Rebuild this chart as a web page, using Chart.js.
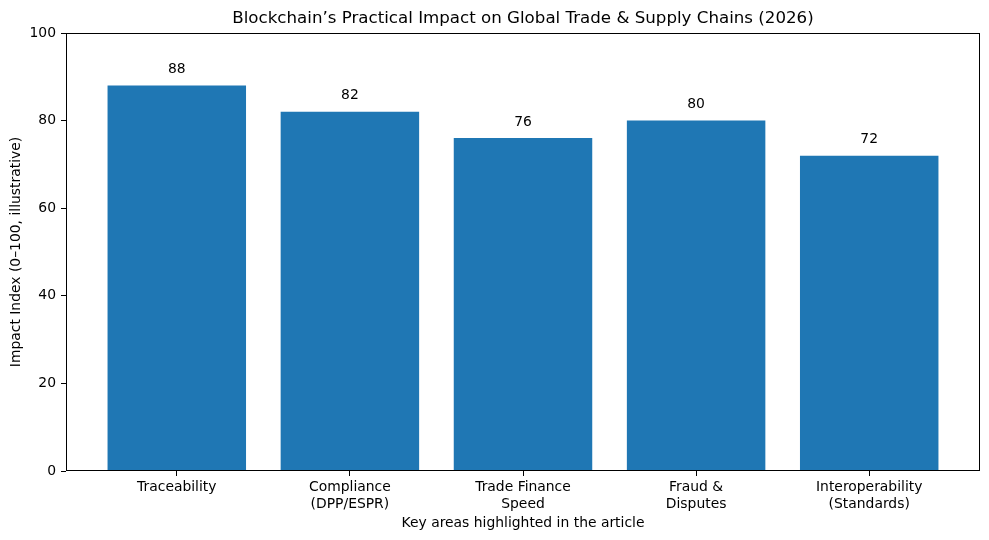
<!DOCTYPE html>
<html>
<head>
<meta charset="utf-8">
<script src="https://cdn.jsdelivr.net/npm/chart.js@4/dist/chart.umd.min.js"></script>
<style>
  html, body { margin: 0; padding: 0; background: #fff; }
  #wrap { width: 989px; height: 540px; }
</style>
</head>
<body>
<div id="wrap"><canvas id="chart" width="989" height="540"></canvas></div>
<script>
// ── Data ──────────────────────────────────────────────────────────────────
const categories = [
    ['Traceability'],
    ['Compliance', '(DPP/ESPR)'],
    ['Trade Finance', 'Speed'],
    ['Fraud &', 'Disputes'],
    ['Interoperability', '(Standards)']
];
const impactValues = [88, 82, 76, 80, 72];
const yTicks = [0, 20, 40, 60, 80, 100];
const chartTitle = 'Blockchain’s Practical Impact on Global Trade & Supply Chains (2026)';

const FONT = "'DejaVu Sans', sans-serif";
const BAR_COLOR = '#1f77b4';

// box round the plot area + title centred over it (matplotlib style)
const frame = {
    id: 'frame',
    afterDraw(chart) {
        const { ctx, chartArea: a } = chart;
        ctx.save();
        ctx.strokeStyle = '#000';
        ctx.lineWidth = 1;
        ctx.strokeRect(Math.round(a.left) + 0.5, Math.round(a.top) + 0.5,
            Math.round(a.right - a.left) - 1, Math.round(a.bottom - a.top) - 1);
        ctx.font = `16.67px ${FONT}`;
        ctx.fillStyle = '#000';
        ctx.textAlign = 'center';
        ctx.textBaseline = 'middle';
        ctx.fillText(chartTitle, (a.left + a.right) / 2, 19);
        ctx.restore();
    }
};

// value labels above bars
const barLabels = {
    id: 'barLabels',
    afterDatasetsDraw(chart) {
        const { ctx } = chart;
        const meta = chart.getDatasetMeta(0);
        ctx.save();
        ctx.font = `13.9px ${FONT}`;
        ctx.fillStyle = '#000';
        ctx.textAlign = 'center';
        ctx.textBaseline = 'bottom';
        meta.data.forEach((bar, i) => {
            ctx.fillText(String(impactValues[i]), bar.x, bar.y - 9);
        });
        ctx.restore();
    }
};

new Chart(document.getElementById('chart'), {
    type: 'bar',
    data: {
        datasets: [{
            data: impactValues.map((v, i) => ({ x: i, y: v })),
            backgroundColor: BAR_COLOR,
            borderWidth: 0,
            barPercentage: 0.8,
            categoryPercentage: 1.0
        }]
    },
    options: {
        responsive: false,
        animation: false,
        layout: { padding: { left: 0, right: 9, top: 33, bottom: 0 } },
        plugins: {
            legend: { display: false },
            tooltip: { enabled: false },
            title: { display: false }
        },
        scales: {
            x: {
                type: 'linear',
                min: -0.64,
                max: 4.64,
                offset: false,
                afterBuildTicks: s => { s.ticks = categories.map((c, i) => ({ value: i })); },
                afterFit: s => { s.height = 69; },
                ticks: {
                    autoSkip: false,
                    maxRotation: 0,
                    color: '#000',
                    padding: 3,
                    font: { family: FONT, size: 13.9 },
                    callback: v => categories[v]
                },
                grid: { display: true, offset: false, drawOnChartArea: false, drawTicks: true, tickLength: 5, color: '#000' },
                border: { display: false },
                title: {
                    display: true,
                    text: 'Key areas highlighted in the article',
                    color: '#000',
                    font: { family: FONT, size: 13.9 },
                    padding: { top: 0, bottom: 8 }
                }
            },
            y: {
                min: 0,
                max: 100,
                afterBuildTicks: s => { s.ticks = yTicks.map(v => ({ value: v })); },
                afterFit: s => { s.width = 66; },
                ticks: {
                    color: '#000',
                    padding: 5,
                    font: { family: FONT, size: 13.9 }
                },
                grid: { display: true, drawOnChartArea: false, drawTicks: true, tickLength: 5, color: '#000' },
                border: { display: false },
                title: {
                    display: true,
                    text: 'Impact Index (0–100, illustrative)',
                    color: '#000',
                    font: { family: FONT, size: 13.9 },
                    padding: { top: 8, bottom: 0 }
                }
            }
        }
    },
    plugins: [frame, barLabels]
});
</script>
</body>
</html>
